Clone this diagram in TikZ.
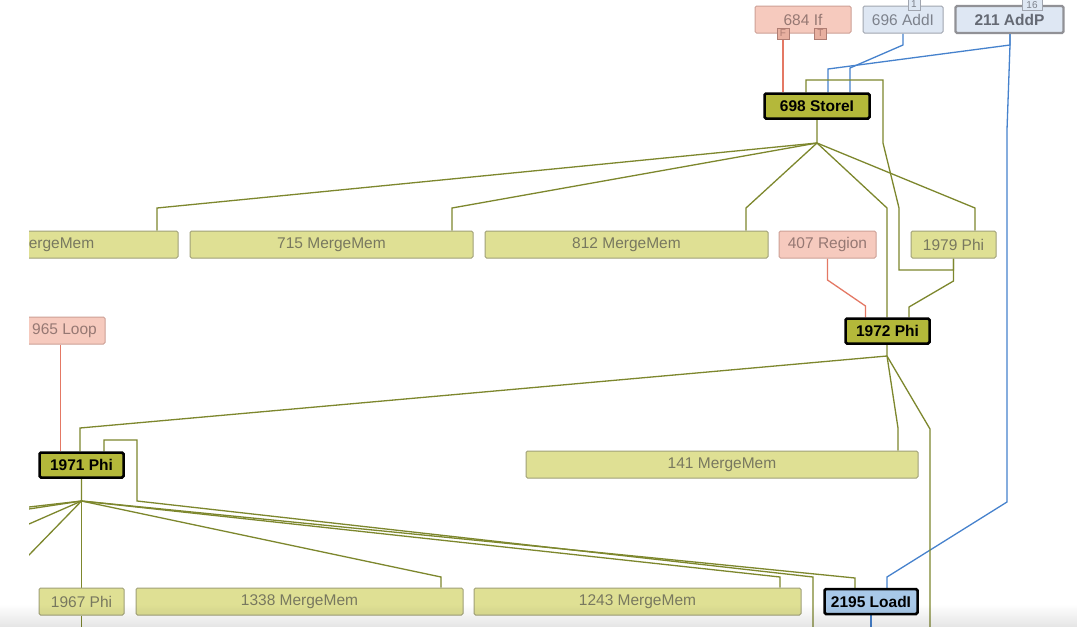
\documentclass[tikz,border=0pt]{standalone}
\usepackage{fontspec}
\setmainfont{Liberation Sans}
\usetikzlibrary{backgrounds,fadings}
\definecolor{olv}{RGB}{125,135,45}
\definecolor{olvfill}{RGB}{223,224,148}
\definecolor{olvbord}{RGB}{160,160,120}
\definecolor{olvtext}{RGB}{120,120,95}
\definecolor{boldfill}{RGB}{180,184,58}
\definecolor{salfill}{RGB}{246,202,190}
\definecolor{salbord}{RGB}{205,160,150}
\definecolor{saltext}{RGB}{150,120,115}
\definecolor{salport}{RGB}{232,176,160}
\definecolor{salpbord}{RGB}{175,125,115}
\definecolor{blfill}{RGB}{222,231,243}
\definecolor{blbord}{RGB}{160,165,175}
\definecolor{bltext}{RGB}{125,130,140}
\definecolor{loadfill}{RGB}{168,200,232}
\definecolor{redge}{RGB}{228,120,100}
\definecolor{bedge}{RGB}{70,130,205}
\tikzset{
  nbase/.style={rounded corners=1.5pt, inner sep=0pt, minimum height=27pt, line width=1pt,
    font=\fontsize{15.5}{18}\selectfont},
  lite/.style={nbase, draw=olvbord, fill=olvfill, text=olvtext},
  sal/.style={nbase, draw=salbord, fill=salfill, text=saltext},
  bll/.style={nbase, draw=blbord, fill=blfill, text=bltext},
  strong/.style={nbase, draw=black, line width=2.5pt, minimum height=25pt, fill=boldfill, text=black,
    font=\fontsize{15.5}{18}\selectfont\bfseries},
  portbox/.style={inner sep=0pt, minimum width=12pt, minimum height=11pt, line width=0.9pt,
    font=\fontsize{10}{11}\selectfont},
  ow/.style={draw=olv, line width=1.3pt},
  rw/.style={draw=redge, line width=1.3pt},
  bw/.style={draw=bedge, line width=1.3pt}
}
\begin{document}
\begin{tikzpicture}[x=1pt,y=-1pt]
\useasboundingbox (0,0) rectangle (1080,627);
\begin{pgfonlayer}{background}
\fill[white] (0,0) rectangle (1080,627);
\end{pgfonlayer}

% top row
\node[sal, minimum width=96pt] (if684) at (803,19.5) {684 If};
\node[portbox, draw=salpbord, fill=salport, text=salpbord] (portF) at (783,33.5) {F};
\node[portbox, draw=salpbord, fill=salport, text=salpbord] (portT) at (820.5,33.5) {T};
\node[bll, minimum width=80pt] (addi696) at (903,19.5) {696 AddI};
\node[portbox, draw=blbord, fill=blfill, text=bltext] (port1) at (914,4.5) {1};
\node[bll, minimum width=108pt, line width=2.2pt, draw={rgb,255:red,145;green,145;blue,150},
  text={rgb,255:red,100;green,105;blue,115}, font=\fontsize{15.5}{18}\selectfont\bfseries] (addp211) at (1009.5,19.5) {211 AddP};
\node[portbox, draw=blbord, fill=blfill, text=bltext, minimum width=20pt] (port16) at (1032,5) {16};

\node[strong, minimum width=105pt] (storei698) at (817,106) {698 StoreI};

% second row
\node[lite, minimum width=283pt] (mmleft) at (36.5,244.5) {\hspace*{50pt}ergeMem};
\node[lite, minimum width=283pt] (mm715) at (331.5,244.5) {715 MergeMem};
\node[lite, minimum width=283pt] (mm812) at (626.5,244.5) {812 MergeMem};
\node[sal, minimum width=97pt] (region407) at (827.5,244.5) {407 Region};
\node[lite, minimum width=85pt] (phi1979) at (953.5,244.5) {1979 Phi};

\node[strong, minimum width=84pt] (phi1972) at (887.5,331) {1972 Phi};
\node[sal, minimum width=89pt] (loop965) at (60.5,330.5) {\hspace*{8pt}965 Loop};

\node[strong, minimum width=84pt] (phi1971) at (81.5,465) {1971 Phi};
\node[lite, minimum width=392pt] (mm141) at (722,464.5) {141 MergeMem};

\node[lite, minimum width=85pt] (phi1967) at (81.5,601.5) {1967 Phi};
\node[lite, minimum width=327pt] (mm1338) at (299.5,601.5) {1338 MergeMem};
\node[lite, minimum width=327pt] (mm1243) at (637.5,601.5) {1243 MergeMem};
\node[strong, minimum width=93pt, fill=loadfill] (loadi2195) at (871,601.5) {2195 LoadI};

\coordinate (b930) at (930,627);
\coordinate (b813) at (813,627);
\coordinate (b81) at (81.5,627);
\coordinate (b871) at (871,627);
\coordinate (l1) at (0,510.3);
\coordinate (l2) at (0,513.4);
\coordinate (l3) at (0,536.7);
\coordinate (l4) at (0,584.8);

\begin{pgfonlayer}{background}
% inputs of 698 StoreI
\draw[rw] (portF.south) -- ([xshift=-34pt]storei698.north);
\draw[bw] (addi696.south) -- (903,45) -- (850,68) -- ([xshift=33pt]storei698.north);
\draw[bw] ([xshift=0.5pt]addp211.south) -- (1010,45) -- (828,69) -- ([xshift=11pt]storei698.north);
\draw[bw] ([xshift=0.5pt]addp211.south) -- (1010,45) -- (1007,130) -- (1007,502) -- (887,577) -- ([xshift=16pt]loadi2195.north);
\draw[ow] (phi1979.south) -- (953.5,270) -- (899,270) -- (899,208) -- (883,143) -- (883,80) -- (806,80) -- ([xshift=-11pt]storei698.north);

% fan of 698 StoreI
\draw[ow] (storei698.south) -- (817,143) -- (157,208) -- ([xshift=120.5pt]mmleft.north);
\draw[ow] (817,143) -- (452,208) -- ([xshift=120.5pt]mm715.north);
\draw[ow] (817,143) -- (746,208) -- ([xshift=119.5pt]mm812.north);
\draw[ow] (817,143) -- (887,208) -- ([xshift=-0.5pt]phi1972.north);
\draw[ow] (817,143) -- (975,208) -- ([xshift=21.5pt]phi1979.north);

% inputs of 1972 Phi
\draw[rw] (region407.south) -- (827.5,280) -- (865.5,306) -- ([xshift=-22pt]phi1972.north);
\draw[ow] (phi1979.south) -- (953.5,281) -- (909,307) -- ([xshift=21.5pt]phi1972.north);

% fan of 1972 Phi
\draw[ow] ([xshift=-0.5pt]phi1972.south) -- (887,356) -- (80,428) -- ([xshift=-1.5pt]phi1971.north);
\draw[ow] (887,356) -- (898,428) -- ([xshift=176pt]mm141.north);
\draw[ow] (887,356) -- (930,429) -- (b930);

% inputs of 1971 Phi
\draw[rw] (loop965.south) -- ([xshift=-21pt]phi1971.north);
\draw[ow] (b813) -- (813,577) -- (137,501) -- (137,440) -- (104,440) -- ([xshift=22.5pt]phi1971.north);

% fan of 1971 Phi
\draw[ow] (phi1971.south) -- (81.5,501) -- (l1);
\draw[ow] (81.5,501) -- (l2);
\draw[ow] (81.5,501) -- (l3);
\draw[ow] (81.5,501) -- (l4);
\draw[ow] (81.5,501) -- (phi1967.north);
\draw[ow] (81.5,501) -- (441,577) -- ([xshift=141.5pt]mm1338.north);
\draw[ow] (81.5,501) -- (780,577) -- ([xshift=142.5pt]mm1243.north);
\draw[ow] (81.5,501) -- (855,578) -- ([xshift=-16pt]loadi2195.north);

% outputs leaving the view
\draw[ow] (phi1967.south) -- (b81);
\draw[bw] (loadi2195.south) -- (b871);
\end{pgfonlayer}

% clipped left margin and bottom shadow
\fill[white] (0,0) rectangle (29,627);
\fill[black, opacity=0.10, path fading=north] (0,604) rectangle (1080,627);
\end{tikzpicture}
\end{document}
